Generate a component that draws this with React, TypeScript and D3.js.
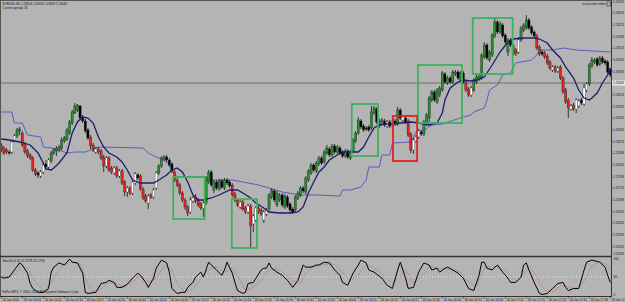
import React from 'react';
import * as d3 from 'd3';

// prices: BASE + points * 1e-5
const BASE = 1.22;
const OPEN = [863,854,848,842,842,878,890,905,899,866,845,833,824,788,779,770,782,806,797,815,839,845,848,854,875,881,899,929,959,968,980,947,935,908,887,863,842,851,845,827,800,824,794,779,794,770,785,752,722,734,719,749,773,770,731,710,689,713,707,734,779,800,821,827,818,806,782,758,743,719,698,677,662,695,707,698,686,674,689,752,782,728,752,731,755,734,758,752,743,716,698,677,692,674,662,680,626,638,674,668,638,656,671,707,725,683,698,713,677,707,686,671,668,704,713,734,722,758,779,803,785,806,824,812,839,851,833,860,842,854,842,830,845,824,842,875,899,935,920,914,917,914,959,971,920,932,935,920,932,920,935,926,968,938,944,935,896,848,875,887,902,896,926,944,998,1022,992,1013,1028,1076,1049,1064,1052,1076,1082,1058,1079,1052,1031,1013,1028,1052,1061,1064,1127,1163,1118,1133,1190,1232,1202,1223,1193,1142,1178,1160,1148,1142,1178,1208,1214,1238,1217,1202,1190,1157,1142,1139,1130,1112,1088,1097,1085,1097,1064,1028,998,971,983,971,980,998,986,1028,1046,1100,1112,1121,1106,1124,1115,1112,1088];
const HIGH = [869,860,854,848,878,896,914,917,905,872,851,839,830,794,785,788,812,818,824,845,854,860,863,887,890,914,938,968,989,986,983,953,941,914,893,869,857,857,851,833,830,830,800,800,800,791,791,758,740,740,758,782,779,776,737,716,716,719,734,785,806,830,833,833,824,812,788,764,749,725,704,683,707,710,716,704,692,695,770,788,788,758,758,761,761,764,764,758,749,722,704,698,698,680,686,686,656,680,680,674,668,674,719,734,731,725,719,719,716,713,692,677,713,725,740,740,770,791,809,809,815,830,830,848,863,857,866,866,863,860,848,851,851,848,884,905,947,941,926,920,923,980,980,977,941,944,941,938,938,941,941,977,974,953,950,941,902,884,893,911,908,938,959,1010,1028,1028,1034,1040,1085,1082,1070,1070,1088,1088,1088,1085,1085,1058,1037,1040,1064,1073,1076,1139,1172,1169,1148,1199,1244,1238,1235,1229,1199,1184,1184,1166,1154,1187,1220,1229,1253,1244,1223,1208,1196,1163,1148,1145,1136,1118,1103,1103,1100,1103,1070,1034,1004,986,989,1004,1001,1004,1046,1052,1109,1127,1124,1127,1130,1130,1121,1118,1094];
const LOW = [842,833,836,833,836,872,884,893,857,836,824,818,782,770,764,764,776,791,791,809,833,830,842,848,869,875,893,923,956,962,938,929,899,878,851,842,836,836,818,782,794,782,776,773,764,764,743,710,707,713,713,743,758,725,698,689,671,701,701,728,773,794,815,812,797,779,752,737,713,692,668,650,656,689,689,677,668,647,683,746,737,719,728,725,731,728,743,734,707,692,677,671,665,656,656,554,602,632,656,650,629,650,665,701,692,677,692,677,671,674,659,656,662,698,707,719,716,752,773,782,779,800,803,806,833,827,827,836,836,833,824,824,821,818,839,869,893,911,902,905,902,908,953,926,914,926,917,914,914,914,920,920,938,932,926,887,839,836,869,881,890,890,920,932,992,992,986,1007,1022,1046,1043,1046,1046,1070,1058,1052,1046,1022,1007,1007,1022,1046,1055,1058,1121,1118,1112,1127,1184,1196,1196,1184,1166,1130,1157,1130,1130,1136,1172,1202,1208,1208,1193,1184,1148,1130,1130,1121,1103,1088,1082,1079,1079,1058,1016,986,944,965,965,959,974,983,980,1022,1040,1094,1106,1097,1100,1106,1103,1076,1067];
const CLOSE = [848,839,842,839,872,890,908,911,863,842,830,824,788,776,773,782,803,797,818,839,848,854,857,878,884,908,932,962,980,983,944,935,905,884,860,848,851,842,824,800,824,788,782,794,770,785,749,722,734,719,752,776,764,731,704,695,710,707,728,779,800,824,827,818,803,785,758,743,719,698,677,659,698,704,695,683,674,689,764,782,743,752,734,755,737,758,749,740,713,698,683,692,671,662,680,620,650,674,662,656,662,668,713,728,698,719,713,683,710,680,668,662,707,719,734,725,764,785,803,788,809,824,809,842,854,833,860,842,857,839,830,845,827,842,878,899,938,917,908,911,908,962,974,932,935,938,923,932,920,935,926,968,944,947,932,893,848,878,887,905,896,932,953,1004,1022,998,1028,1034,1079,1052,1064,1052,1082,1082,1064,1079,1052,1028,1013,1034,1058,1067,1070,1133,1163,1124,1142,1193,1232,1202,1226,1190,1172,1178,1163,1139,1136,1178,1214,1223,1238,1214,1199,1190,1154,1136,1136,1127,1109,1094,1097,1085,1094,1064,1022,992,974,980,971,998,995,989,1034,1046,1103,1118,1118,1103,1124,1112,1109,1082,1073];
// candle class: G/R coloured by the trend indicator, W bull, K bear
const BAR_CLASS = ("RRRKWWGGRR" + "RRRRKWWKWG" + "GGGGGGGGGG" + "KKKKRRWRRR" + "WRRWRWRRWR" +
  "WWKRRRWRWW" + "GGGKKKRRRR" + "RRWWRRRWGG" + "KGKGKGKKRR" + "RWRRWRWWRR" +
  "WWGGKGGKGK" + "KKGGGKGGGK" + "GGKGGKGKGK" + "KGKGGGGKKK" + "KGGKGGKWKW" +
  "KGKWKRRWWW" + "KGGGGKGGGK" + "GKGGKGKRRW" + "GGGGGKGGGK" + "GKKGKRRWGG" +
  "GKKKRRKRRR" + "WRWRRRRWRW" + "WKWWGGGKGK" + "KKK").split('');

const MA_BARS = [0,3,7,11,14,16,17,19,20,22,25,27,29,31,33,35,37,39,41,44,46,48,50,53,55,58,60,63,65,67,69,71,73,75,77,80,83,87,90,92,95,97,100,102,106,110,113,115,117,119,121,123,125,128,130,133,136,138,140,142,144,147,149,152,156,159,163,166,168,169,171,174,176,179,181,184,187,190,193,195,199,203,205,208,210,213,215,218,220,222,224,225,227,229,231,232];
const MA_VALUES = [881,878,872,863,839,809,791,788,794,809,839,899,932,947,944,929,887,857,839,827,812,788,758,749,749,749,758,773,788,794,782,752,713,698,698,704,713,728,728,719,704,689,674,662,659,659,662,677,719,752,782,797,818,833,842,842,842,857,887,914,923,926,926,929,932,929,923,929,959,998,1034,1052,1058,1055,1058,1067,1103,1142,1172,1181,1184,1184,1181,1169,1148,1124,1097,1064,1028,1004,998,1004,1019,1049,1073,1094];

const STOP_BARS = [0,4,5,8,10,15,16,19,22,25,28,32,37,54,56,59,62,64,65,67,77,78,88,94,98,102,107,114,120,129,130,133,137,139,140,144,145,148,149,156,158,161,164,168,176,179,180,184,185,186,189,191,194,196,202,204,205,210,214,219,232];
const STOP_VALUES = [962,962,929,929,893,887,857,854,848,839,842,842,857,854,839,827,818,803,788,767,767,758,758,749,743,734,722,713,713,710,728,728,737,758,797,797,833,833,869,872,902,908,923,926,947,953,962,974,998,1028,1043,1073,1079,1109,1118,1133,1148,1148,1154,1148,1142];

const STOCH_BARS = [0,1,3,5,7,8,10,11,12,14,16,18,19,20,22,24,25,26,27,29,31,32,33,36,38,40,41,43,44,46,48,50,52,53,55,56,58,59,61,63,64,65,67,69,70,71,73,74,76,77,79,80,82,84,85,86,88,89,90,92,93,94,96,97,99,100,101,102,103,105,107,109,111,113,115,116,118,120,121,123,125,127,129,130,132,134,136,137,139,140,142,145,147,149,151,152,154,155,157,159,161,163,164,166,167,169,170,172,174,176,178,180,182,183,184,185,187,188,189,191,193,194,196,198,199,200,201,203,205,206,208,210,212,214,215,216,218,220,222,223,225,228,230,231,232];
const STOCH_MAIN = [49,46,49,69,89,83,60,31,17,6,6,17,63,77,89,83,91,100,91,89,60,6,3,6,31,34,40,34,20,20,29,46,60,54,34,20,46,74,97,89,63,17,3,6,6,20,34,49,63,49,91,83,69,54,69,91,60,34,11,3,6,31,34,46,69,74,74,89,74,63,54,40,20,40,83,77,77,83,83,91,89,69,54,34,26,60,83,97,89,69,63,46,26,17,69,91,46,17,20,63,89,83,69,74,63,74,77,69,60,46,17,11,54,91,91,74,69,77,83,63,46,34,34,49,83,89,69,34,3,0,3,17,31,34,20,11,17,17,69,91,97,91,77,54,34];
const SIGNAL_BARS = [0,4,8,10,13,16,19,21,24,27,30,33,35,38,41,44,47,50,53,56,59,62,65,67,70,73,76,79,82,85,88,91,93,96,99,102,105,108,111,114,116,119,123,127,130,133,136,139,142,145,149,152,154,157,160,163,166,169,172,175,178,181,184,187,190,193,196,199,201,204,207,210,213,216,219,222,225,228,231,232];
const SIGNAL_VALUES = [50,52,80,75,35,10,30,60,85,93,85,30,8,15,33,30,22,35,55,35,45,80,70,30,6,15,45,70,78,62,75,40,12,20,40,70,72,58,38,32,60,78,85,85,62,38,55,85,75,58,32,50,70,32,50,80,75,70,72,62,35,22,75,80,75,60,38,55,80,50,12,8,25,22,15,35,80,93,80,65];

const PRICE_TICKS = [1.23293,1.23258,1.23223,1.23188,1.23153,1.23118,1.23083,1.23013,1.22978,1.22943,1.22908,1.22873,1.22838,1.22803,1.22768,1.22733,1.22698,1.22663,1.22628,1.22593,1.22558];
const CURRENT_PRICE = 1.23049;
const BOTTOM_PRICE = 1.22536;
const TIME_LABELS = ["18 Jun 2010","18 Jun 14:03","18 Jun 14:11","18 Jun 14:19","18 Jun 14:27","18 Jun 14:35","18 Jun 14:43","18 Jun 14:51","18 Jun 14:59","18 Jun 15:07","18 Jun 15:15","18 Jun 15:23","18 Jun 15:31","18 Jun 15:39","18 Jun 15:47","18 Jun 15:55","18 Jun 16:03","18 Jun 16:11","18 Jun 16:19","18 Jun 16:27","18 Jun 16:35","18 Jun 16:43","18 Jun 16:51","18 Jun 16:59","18 Jun 17:07","18 Jun 17:15","18 Jun 17:23","18 Jun 17:31","18 Jun 17:39","18 Jun 17:47"];
const STOCH_TICKS = [100, 50, 0];

// highlighted zones: [fromBar, toBar, topPoints, bottomPoints]
const GREEN_ZONES = [[65.5, 77.5, 767, 641], [87.8, 97.4, 701, 554], [133.5, 143.5, 986, 830], [158.7, 175.5, 1103, 929], [179.6, 194.8, 1244, 1076]];
const RED_ZONES = [[149.2, 158.4, 950, 815]];

const COLORS: Record<string, string> = { G: '#24922a', R: '#e8231e', W: '#ffffff', K: '#000000' };

export default function App() {
  const W = 625, H = 302;
  const plotRight = 611;
  const mainBottom = 256;
  const p = (v: number) => BASE + v / 1e5;
  const x = d3.scaleLinear().domain([0, 232]).range([1.3, 610.3]);
  const y = d3.scaleLinear().domain([1.2253, 1.23298]).range([mainBottom, 0]);
  const ys = d3.scaleLinear().domain([0, 100]).range([294.5, 259]);
  const priceLine = (bars: number[], vals: number[]) =>
    d3.line<number>().x((_, i) => x(bars[i])).y((_, i) => y(p(vals[i])))(vals) || '';
  const stochLine = (bars: number[], vals: number[]) =>
    d3.line<number>().x((_, i) => x(bars[i])).y((_, i) => ys(vals[i]))(vals) || '';
  const font = '"Liberation Sans", Arial, sans-serif';
  const bodyW = 2.2;
  const fs = 3.0;

  return (
    <svg width={W} height={H} style={{ position: 'absolute', left: 0, top: 0, display: 'block' }} fontFamily={font}>
      <defs>
        <clipPath id="mainClip"><rect x={0} y={0} width={plotRight} height={mainBottom} /></clipPath>
        <clipPath id="stClip"><rect x={0} y={257} width={plotRight} height={39} /></clipPath>
      </defs>
      <rect x={0} y={0} width={W} height={H} fill="#b4b4b4" />
      <g clipPath="url(#mainClip)">
        <line x1={0} x2={plotRight} y1={y(CURRENT_PRICE)} y2={y(CURRENT_PRICE)} stroke="#6e6e6e" strokeWidth={1} />
        <path d={priceLine(STOP_BARS, STOP_VALUES)} fill="none" stroke="#5b5bc4" strokeWidth={1} />
        {CLOSE.map((c, i) => {
          const o = OPEN[i];
          const cls = BAR_CLASS[i];
          const top = y(p(Math.max(o, c)));
          const bot = y(p(Math.min(o, c)));
          return (
            <g key={i}>
              <line x1={x(i)} x2={x(i)} y1={y(p(HIGH[i]))} y2={y(p(LOW[i]))} stroke="#141414" strokeWidth={0.8} />
              <rect x={x(i) - bodyW / 2} y={top} width={bodyW} height={Math.max(0.8, bot - top)}
                fill={COLORS[cls]} stroke={cls === 'W' ? '#333' : '#1a1a1a'} strokeWidth={0.35} />
            </g>
          );
        })}
        <path d={priceLine(MA_BARS, MA_VALUES)} fill="none" stroke="#1c1c6e" strokeWidth={1.3} />
        {GREEN_ZONES.map((z, i) => (
          <rect key={'g' + i} x={x(z[0])} y={y(p(z[2]))} width={x(z[1]) - x(z[0])} height={y(p(z[3])) - y(p(z[2]))}
            fill="none" stroke="#3cb35c" strokeWidth={1.8} />
        ))}
        {RED_ZONES.map((z, i) => (
          <rect key={'r' + i} x={x(z[0])} y={y(p(z[2]))} width={x(z[1]) - x(z[0])} height={y(p(z[3])) - y(p(z[2]))}
            fill="none" stroke="#e02424" strokeWidth={1.8} />
        ))}
      </g>
      {/* stochastic panel */}
      <g clipPath="url(#stClip)">
        <line x1={0} x2={plotRight} y1={ys(50)} y2={ys(50)} stroke="#e6e6e6" strokeWidth={1} strokeDasharray="1,2" />
        <path d={stochLine(SIGNAL_BARS, SIGNAL_VALUES)} fill="none" stroke="#c07070" strokeWidth={1} strokeDasharray="1,1" />
        <path d={stochLine(STOCH_BARS, STOCH_MAIN)} fill="none" stroke="#000" strokeWidth={1} />
      </g>
      {/* frames */}
      <line x1={0} x2={plotRight} y1={0.5} y2={0.5} stroke="#555" strokeWidth={1} />
      <line x1={0.5} x2={0.5} y1={0} y2={296} stroke="#555" strokeWidth={1} />
      <line x1={0} x2={plotRight} y1={256.5} y2={256.5} stroke="#333" strokeWidth={1.5} />
      <line x1={0} x2={plotRight} y1={296.5} y2={296.5} stroke="#333" strokeWidth={1} />
      <line x1={plotRight + 0.5} x2={plotRight + 0.5} y1={0} y2={297} stroke="#333" strokeWidth={1} />
      {/* price axis */}
      {PRICE_TICKS.map((t) => (
        <g key={t}>
          <line x1={plotRight} x2={plotRight + 1.5} y1={y(t)} y2={y(t)} stroke="#333" strokeWidth={0.7} />
          <text x={plotRight + 2} y={y(t) + 1.1} fontSize={fs} fill="#111">{t.toFixed(5)}</text>
        </g>
      ))}
      <rect x={plotRight + 1} y={y(CURRENT_PRICE) - 2.5} width={W - plotRight - 1} height={5} fill="#e8e8e8" />
      <text x={plotRight + 2} y={y(CURRENT_PRICE) + 1.1} fontSize={fs} fill="#000">{CURRENT_PRICE.toFixed(5)}</text>
      <text x={plotRight + 2} y={y(BOTTOM_PRICE) + 1.1} fontSize={fs} fill="#111">{BOTTOM_PRICE.toFixed(5)}</text>
      {STOCH_TICKS.map((t) => (
        <text key={t} x={plotRight + 2.5} y={ys(t) + 1.1} fontSize={fs} fill="#111">{t}</text>
      ))}
      {/* time axis */}
      {TIME_LABELS.map((l, k) => (
        <g key={l}>
          <line x1={x(k * 8)} x2={x(k * 8)} y1={296.5} y2={298.5} stroke="#333" strokeWidth={0.7} />
          <text x={x(k * 8) + 1.2} y={300.5} fontSize={fs} fill="#111">{l}</text>
        </g>
      ))}
      {/* texts */}
      <text x={2.5} y={4.5} fontSize={fs} fill="#111">EURUSD,M1  1.23054 1.23054 1.23049 1.23049</text>
      <text x={2.5} y={8.5} fontSize={fs} fill="#111">Current spread: 18</text>
      <text x={582} y={5} fontSize={fs} fill="#111">visual order editor</text>
      <rect x={607} y={2} width={3.5} height={4} fill="none" stroke="#333" strokeWidth={0.6} />
      <text x={2.5} y={262} fontSize={3.2} fill="#111">Stoch(5,3,3) 15.5778 25.2790</text>
      <text x={2.5} y={293} fontSize={3.2} fill="#111">FxPro MT4, © 2001-2010 MetaQuotes Software Corp.</text>
    </svg>
  );
}
